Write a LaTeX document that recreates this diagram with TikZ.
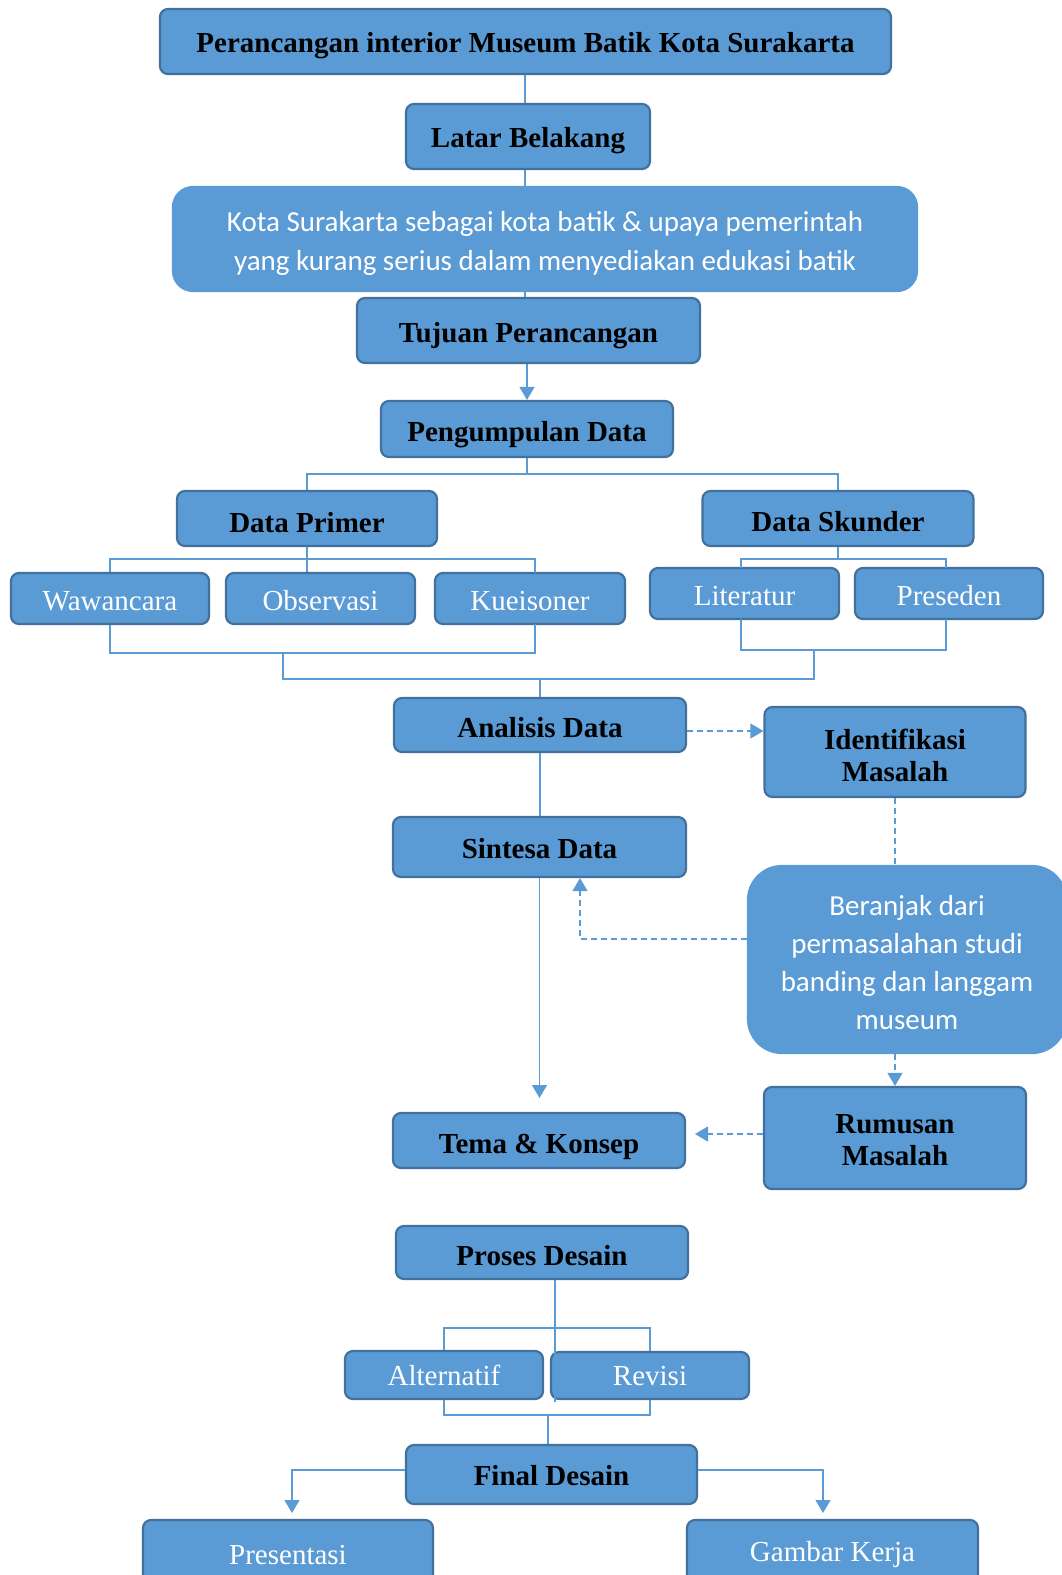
\documentclass[tikz,border=0pt]{standalone}
\usepackage{fontspec}
\setmainfont{Liberation Serif}
\newfontfamily\calfont{Carlito}
\usetikzlibrary{arrows.meta}
\definecolor{boxfill}{HTML}{5B9BD5}
\definecolor{boxline}{HTML}{41719C}
\definecolor{conn}{HTML}{5B9BD5}
\begin{document}
\begin{tikzpicture}[x=1pt,y=-1pt,
  box/.style={draw=boxline, fill=boxfill, line width=2.2pt, rounded corners=8pt, inner sep=0pt, align=center},
  hd/.style={box, font=\fontsize{29}{32}\selectfont\bfseries, text=black},
  wt/.style={box, font=\fontsize{29}{32}\selectfont, text=white},
  one/.style={text height=24pt, text depth=0pt},
  sent/.style={box, draw=boxfill, font=\calfont\fontsize{29}{39}\selectfont, text=white},
  ln/.style={draw=conn, line width=1.4pt},
  dsh/.style={ln, dash pattern=on 6pt off 4pt},
  arr/.style={-{Triangle[width=15pt,length=13pt]}}
]
\useasboundingbox (0,0) rectangle (1062,1575);
\clip (0,0) rectangle (1062,1575);

% boxes
\node[hd, one, text height=22pt, minimum width=731pt, minimum height=65pt] (title) at (525.5,41.5) {Perancangan interior Museum Batik Kota Surakarta};
\node[hd, one, text height=21pt, minimum width=244pt, minimum height=65pt] (latar) at (528,136.5) {Latar Belakang};
\node[sent, rounded corners=20pt, minimum width=744pt, minimum height=104pt] (kota) at (545,239) {\rule{0pt}{29pt}Kota Surakarta sebagai kota batik \& upaya pemerintah\\yang kurang serius dalam menyediakan edukasi batik};
\node[hd, one, minimum width=343pt, minimum height=65pt] (tujuan) at (528.5,330.5) {Tujuan Perancangan};
\node[hd, one, minimum width=292pt, minimum height=56pt] (peng) at (527,429) {Pengumpulan Data};
\node[hd, one, text height=27pt, minimum width=260pt, minimum height=55pt] (primer) at (307,518.5) {Data Primer};
\node[hd, one, text height=26pt, minimum width=271pt, minimum height=55pt] (skunder) at (838,518.5) {Data Skunder};
\node[wt, one, minimum width=198pt, minimum height=51pt] (waw) at (110,598.5) {Wawancara};
\node[wt, one, minimum width=189pt, minimum height=51pt] (obs) at (320.5,598.5) {Observasi};
\node[wt, one, minimum width=190pt, minimum height=51pt] (kue) at (530,598.5) {Kueisoner};
\node[wt, one, minimum width=189pt, minimum height=51pt] (lit) at (744.5,593.5) {Literatur};
\node[wt, one, minimum width=188pt, minimum height=51pt] (pres) at (949,593.5) {Preseden};
\node[hd, one, minimum width=292pt, minimum height=54pt] (analisis) at (540,725) {Analisis Data};
\node[hd, minimum width=261pt, minimum height=90pt] (ident) at (895,752) {\rule{0pt}{28pt}Identifikasi\\Masalah};
\node[hd, one, text height=22pt, minimum width=293pt, minimum height=60pt] (sintesa) at (539.5,847) {Sintesa Data};
\node[sent, rounded corners=34pt, minimum width=318pt, minimum height=187pt, font=\calfont\fontsize{29}{38}\selectfont] (beranjak) at (907,959.5) {\rule{0pt}{27pt}Beranjak dari\\permasalahan studi\\banding dan langgam\\museum};
\node[hd, minimum width=262pt, minimum height=102pt] (rumusan) at (895,1138) {\rule{0pt}{24pt}Rumusan\\Masalah};
\node[hd, one, text height=25pt, minimum width=292pt, minimum height=55pt] (tema) at (539,1140.5) {Tema \& Konsep};
\node[hd, one, text height=25pt, minimum width=292pt, minimum height=53pt] (proses) at (542,1252.5) {Proses Desain};
\node[wt, one, text height=20pt, minimum width=198pt, minimum height=48pt] (alt) at (444,1375) {Alternatif};
\node[wt, one, text height=20pt, minimum width=198pt, minimum height=47pt] (rev) at (650,1375.5) {Revisi};
\node[hd, one, text height=21pt, minimum width=291pt, minimum height=59pt] (final) at (551.5,1474.5) {Final Desain};
\node[wt, minimum width=290pt, minimum height=70pt] (presentasi) at (288,1555) {Presentasi};
\node[wt, minimum width=291pt, minimum height=70pt] (gambar) at (832.5,1555) {Gambar Kerja};

% helper coordinates
\coordinate (tx) at (525,0);
\coordinate (pj) at (527,474);
\coordinate (prj) at (307,559);
\coordinate (skj) at (838,559);
\coordinate (kuet) at (535,573);
\coordinate (kueb) at (535,624);
\coordinate (litt) at (741,568);
\coordinate (litb) at (741,619);
\coordinate (prest) at (946,568);
\coordinate (presb) at (946,619);
\coordinate (pl) at (283,653);
\coordinate (sl) at (814,650);
\coordinate (ml) at (540,679);
\coordinate (ay) at (0,731);
\coordinate (by) at (0,939);
\coordinate (bx) at (580,0);
\coordinate (ry) at (0,1134);
\coordinate (rtip) at (695,1134);
\coordinate (stip) at (539.5,1098);
\coordinate (pv) at (555,1402);
\coordinate (at) at (444,1328);
\coordinate (bb) at (0,1415);
\coordinate (fb) at (548,1415);
\coordinate (fy) at (0,1470);
\coordinate (ptip) at (292,1513);
\coordinate (gtip) at (823,1513);

% connectors
\draw[ln] (title.south -| tx) -- (latar.north -| tx);
\draw[ln] (latar.south -| tx) -- (kota.north -| tx);
\draw[ln] (kota.south -| tx) -- (tujuan.north -| tx);
\draw[ln,arr] (tujuan.south -| pj) -- (peng.north -| pj);
\draw[ln] (peng.south) -- (pj);
\draw[ln] (primer.north) |- (pj) -| (skunder.north);
\draw[ln] (primer.south) -- (prj);
\draw[ln] (waw.north) |- (prj) -| (kuet);
\draw[ln] (obs.north -| prj) -- (prj);
\draw[ln] (skunder.south) -- (skj);
\draw[ln] (litt) |- (skj) -| (prest);
\draw[ln] (waw.south) -- (waw.south |- pl) -| (kueb);
\draw[ln] (litb) -- (litb |- sl) -| (presb);
\draw[ln] (pl) -- (pl |- ml) -- (sl |- ml) -- (sl);
\draw[ln] (ml) -- (analisis.north);
\draw[ln] (analisis.south) -- (analisis.south |- sintesa.north);
\draw[dsh,arr] (analisis.east |- ay) -- (ident.west |- ay);
\draw[dsh] (ident.south) -- (ident.south |- beranjak.north);
\draw[dsh,arr] (beranjak.west |- by) -| (sintesa.south -| bx);
\draw[ln,arr] (sintesa.south) -- (stip);
\draw[dsh,arr] (beranjak.south -| ident.south) -- (rumusan.north);
\draw[dsh,arr] (rumusan.west |- ry) -- (rtip);
\draw[ln] (proses.south -| pv) -- (pv);
\draw[ln] (alt.north) -- (alt.north |- at) -| (rev.north);
\draw[ln] (alt.south) -- (alt.south |- bb) -| (rev.south);
\draw[ln] (fb) -- (final.north -| fb);
\draw[ln,arr] (final.west |- fy) -| (ptip);
\draw[ln,arr] (final.east |- fy) -| (gtip);
\end{tikzpicture}
\end{document}
